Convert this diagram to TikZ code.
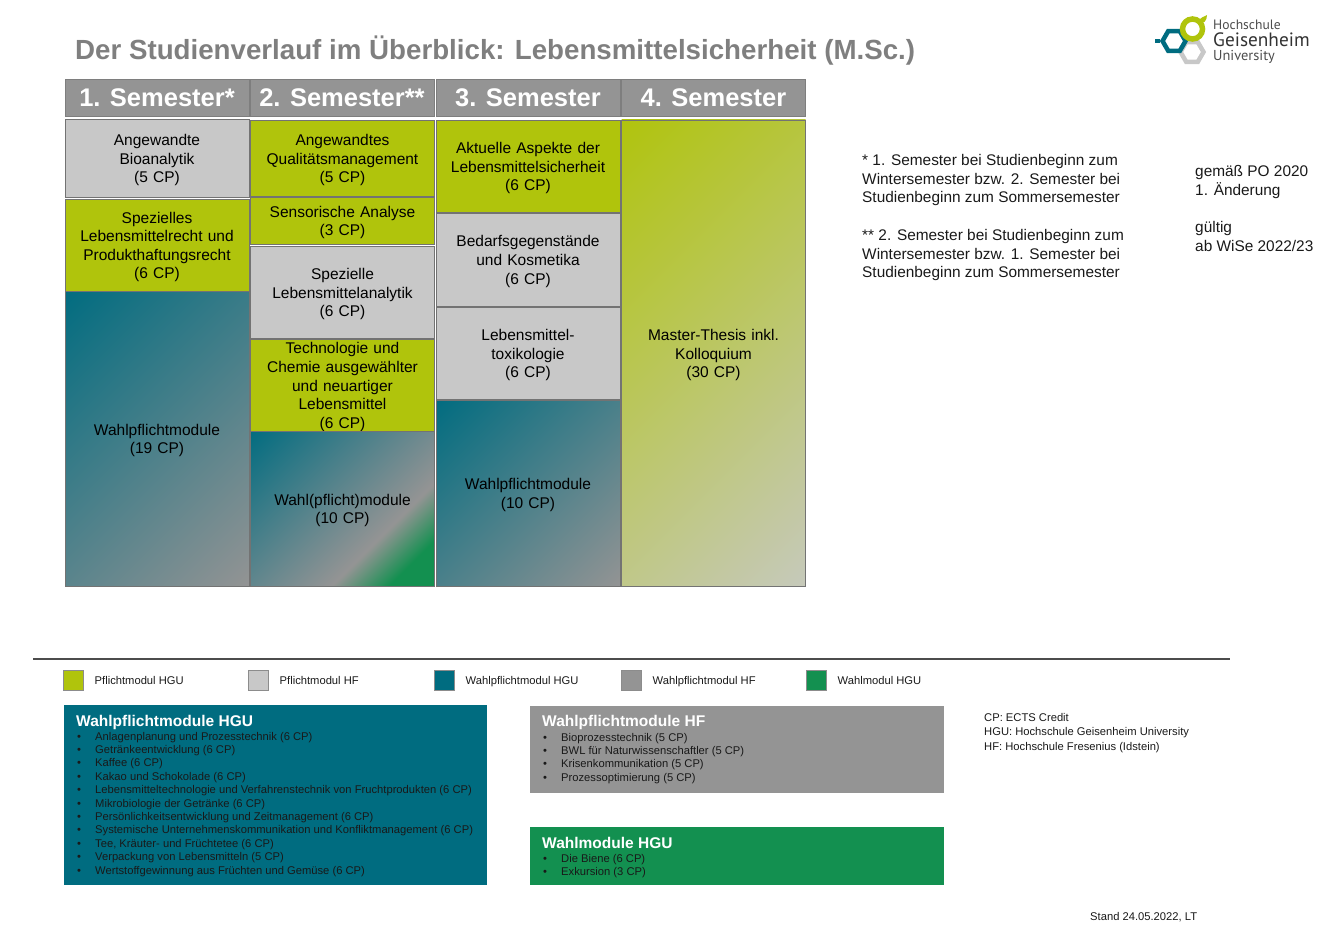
\documentclass[tikz,border=0pt]{standalone}
\usepackage{fontspec}
\setmainfont{Liberation Sans}
\newfontfamily\logofont{PT Sans}
\usepackage{tikz}
\usetikzlibrary{positioning, shapes.geometric}

\definecolor{hgulime}{HTML}{B0C40C}
\definecolor{hfgrey}{HTML}{C8C8C8}
\definecolor{hguteal}{HTML}{006C80}
\definecolor{wpgrey}{HTML}{949494}
\definecolor{hgugreen}{HTML}{139050}
\definecolor{titlegrey}{HTML}{7F7F7F}
\definecolor{endbeige}{HTML}{C6C9BC}

\pgfdeclareverticalshading{wpshade}{100bp}{color(0bp)=(wpgrey); color(14bp)=(wpgrey); color(86bp)=(hguteal); color(100bp)=(hguteal)}
\pgfdeclareverticalshading{wahlshade}{100bp}{color(0bp)=(hgugreen); color(24bp)=(hgugreen); color(36bp)=(wpgrey); color(86bp)=(hguteal); color(100bp)=(hguteal)}
\pgfdeclareverticalshading{thesisshade}{100bp}{color(0bp)=(endbeige); color(14bp)=(endbeige); color(86bp)=(hgulime); color(100bp)=(hgulime)}

\tikzset{
  kopf/.style={fill=wpgrey, draw=wpgrey!85!black, line width=0.8pt, inner sep=0pt, text=white, font=\fontsize{25.5}{30}\bfseries\selectfont, minimum width=184pt, minimum height=37pt, text height=19pt, text depth=0pt},
  modul/.style={draw=black!55, line width=0.8pt, inner sep=0pt, minimum width=184pt},
  modultext/.style={inner sep=0pt, align=center, text=black, font=\fontsize{15.5}{18.6}\selectfont, text width=180pt, yshift=-2pt},
  pflichthgu/.style={fill=hgulime},
  pflichthf/.style={fill=hfgrey},
  wpmodul/.style={shading=wpshade, shading angle=45},
  wahlmodul/.style={shading=wahlshade, shading angle=45},
  thesismodul/.style={shading=thesisshade, shading angle=45},
  notiz/.style={anchor=base west, inner sep=0pt, font=\fontsize{15.4}{18}\selectfont, text=black!90},
  klein/.style={anchor=base west, inner sep=0pt, font=\fontsize{11.2}{13.4}\selectfont, text=black!90},
  feld/.style={anchor=north west, inner sep=0pt},
  feldkopf/.style={anchor=base west, inner sep=0pt, text=white, font=\fontsize{15.5}{18}\bfseries\selectfont},
  legende/.style={anchor=north west, inner sep=0pt, minimum size=20pt, draw=black!45, line width=0.6pt},
  hexa/.style={regular polygon, regular polygon sides=6, minimum size=23pt, inner sep=0pt, line width=4.5pt},
}

\begin{document}
\begin{tikzpicture}[x=1pt,y=-1pt]
  \useasboundingbox (0,0) rectangle (1340,928);

  % Title
  \node[anchor=base west, inner sep=0pt, text=titlegrey, font=\fontsize{27.7}{30}\bfseries\selectfont] (titel) at (75,60) {Der Studienverlauf im Überblick: Lebensmittelsicherheit (M.Sc.)};

  % Logo
  \node[hexa, draw=hfgrey] (hexgrau) at (1192,52) {};
  \node[hexa, draw=hguteal] (hexteal) at (1174,41) {};
  \coordinate (stub) at (1155,41);
  \draw[hguteal, line width=4.5pt] (stub) -- (hexteal.west);
  \node[circle, draw=hgulime, line width=5.5pt, minimum size=20pt, inner sep=0pt] (kreis) at (1192.5,29) {};
  \fill[hgulime] (1198,23) .. controls (1200,16) and (1205,17) .. (1207,15) .. controls (1207,20) and (1204,25) .. (1198,23);
  \node[anchor=base west, inner sep=0pt, text=black!70, font=\logofont\fontsize{13.6}{16}\selectfont] (hochschule) at (1213,30) {Hochschule};
  \node[anchor=base west, inner sep=0pt, text=black!80, font=\logofont\fontsize{19.3}{20}\selectfont] (geisenheim) at (1213,47) {Geisenheim};
  \node[anchor=base west, inner sep=0pt, text=black!70, font=\logofont\fontsize{14.4}{16}\selectfont] (university) at (1213,61) {University};

  % Semester heads
  \node[kopf] (sem1) at (157,97.5) {1. Semester*};
  \node[kopf] (sem2) at (342,97.5) {2. Semester**};
  \node[kopf] (sem3) at (528,97.5) {3. Semester};
  \node[kopf] (sem4) at (713.5,97.5) {4. Semester};

  % Modules, one list per semester
  \foreach \name/\stil/\mx/\my/\hoehe/\zeile in {
      bioanalytik/pflichthf/157/158/78/{Angewandte\\Bioanalytik\\(5 CP)},
      recht/pflichthgu/157/245/92/{Spezielles\\Lebensmittelrecht und\\Produkthaftungsrecht\\(6 CP)},
      wpeins/wpmodul/157/438.5/295/{Wahlpflichtmodule\\(19 CP)},
      quali/pflichthgu/342.5/158/76/{Angewandtes\\Qualitätsmanagement\\(5 CP)},
      sensorik/pflichthgu/342.5/220.5/47/{Sensorische Analyse\\(3 CP)},
      analytik/pflichthf/342.5/292/92/{Spezielle\\Lebensmittelanalytik\\(6 CP)},
      techno/pflichthgu/342.5/385/92/{Technologie und\\Chemie ausgewählter\\und neuartiger\\Lebensmittel\\(6 CP)},
      wpzwei/wahlmodul/342.5/508.5/155/{Wahl(pflicht)module\\(10 CP)},
      aspekte/pflichthgu/528/166/92/{Aktuelle Aspekte der\\Lebensmittelsicherheit\\(6 CP)},
      bedarf/pflichthf/528/259.5/93/{Bedarfsgegenstände\\und Kosmetika\\(6 CP)},
      toxi/pflichthf/528/353/92/{Lebensmittel-\\toxikologie\\(6 CP)},
      wpdrei/wpmodul/528/493/186/{Wahlpflichtmodule\\(10 CP)},
      thesis/thesismodul/713.5/353/466/{Master-Thesis inkl.\\Kolloquium\\(30 CP)}} {
    \node[modul, \stil, minimum height=\hoehe pt] (\name) at (\mx,\my) {};
    \node[modultext] (\name text) at (\name) {\zeile};
  }

  % Notes
  \foreach \y/\zeile [count=\n] in {166/{* 1. Semester bei Studienbeginn zum}, 185/{Wintersemester bzw. 2. Semester bei}, 203/{Studienbeginn zum Sommersemester}, 240/{** 2. Semester bei Studienbeginn zum}, 259/{Wintersemester bzw. 1. Semester bei}, 277/{Studienbeginn zum Sommersemester}} {
    \node[notiz] (fuss\n) at (862,\y) {\zeile};
  }
  \foreach \y/\zeile [count=\n] in {176/{gemäß PO 2020}, 195/{1. Änderung}, 232/{gültig}, 251/{ab WiSe 2022/23}} {
    \node[notiz] (po\n) at (1195,\y) {\zeile};
  }

  % Legend
  \coordinate (linieA) at (33,659);
  \coordinate (linieB) at (1230,659);
  \draw[black!70, line width=1.5pt] (linieA) -- (linieB);
  \foreach \x/\farbe/\zeile [count=\n] in {63/hgulime/Pflichtmodul HGU, 248/hfgrey/Pflichtmodul HF, 434/hguteal/Wahlpflichtmodul HGU, 621/wpgrey/Wahlpflichtmodul HF, 806/hgugreen/Wahlmodul HGU} {
    \node[legende, fill=\farbe] (farbe\n) at (\x,670) {};
    \node[klein] (leg\n) at (\x+31.5,684) {\zeile};
  }

  % Wahlpflichtmodule HGU
  \node[feld, fill=hguteal, minimum width=423pt, minimum height=180pt] (feldhgu) at (64,705) {};
  \node[feldkopf] (kopfhgu) at (76,726.5) {Wahlpflichtmodule HGU};
  \foreach \zeile [count=\n] in {Anlagenplanung und Prozesstechnik (6 CP), Getränkeentwicklung (6 CP), Kaffee (6 CP), Kakao und Schokolade (6 CP), Lebensmitteltechnologie und Verfahrenstechnik von Fruchtprodukten (6 CP), Mikrobiologie der Getränke (6 CP), Persönlichkeitsentwicklung und Zeitmanagement (6 CP), Systemische Unternehmenskommunikation und Konfliktmanagement (6 CP), {Tee, Kräuter- und Früchtetee (6 CP)}, Verpackung von Lebensmitteln (5 CP), Wertstoffgewinnung aus Früchten und Gemüse (6 CP)} {
    \node[klein] (pkt\n) at (77,740+13.4*\n-13.4) {•};
    \node[klein] (hgu\n) at (95,740+13.4*\n-13.4) {\zeile};
  }

  % Wahlpflichtmodule HF
  \node[feld, fill=wpgrey, minimum width=414pt, minimum height=87pt] (feldhf) at (530,706) {};
  \node[feldkopf] (kopfhf) at (542,726.5) {Wahlpflichtmodule HF};
  \foreach \zeile [count=\n] in {Bioprozesstechnik (5 CP), BWL für Naturwissenschaftler (5 CP), Krisenkommunikation (5 CP), Prozessoptimierung (5 CP)} {
    \node[klein] (hfpkt\n) at (543,741+13.4*\n-13.4) {•};
    \node[klein] (hf\n) at (561,741+13.4*\n-13.4) {\zeile};
  }

  % Wahlmodule HGU
  \node[feld, fill=hgugreen, minimum width=414pt, minimum height=58pt] (feldwahl) at (530,827) {};
  \node[feldkopf] (kopfwahl) at (542,848.5) {Wahlmodule HGU};
  \foreach \zeile [count=\n] in {Die Biene (6 CP), Exkursion (3 CP)} {
    \node[klein] (wahlpkt\n) at (543,862+13.4*\n-13.4) {•};
    \node[klein] (wahl\n) at (561,862+13.4*\n-13.4) {\zeile};
  }

  % Abbreviations
  \foreach \y/\zeile [count=\n] in {721/{CP: ECTS Credit}, 735/{HGU: Hochschule Geisenheim University}, 750/{HF: Hochschule Fresenius (Idstein)}} {
    \node[klein] (abk\n) at (984,\y) {\zeile};
  }
  \node[klein] (stand) at (1090,920) {Stand 24.05.2022, LT};
\end{tikzpicture}
\end{document}
